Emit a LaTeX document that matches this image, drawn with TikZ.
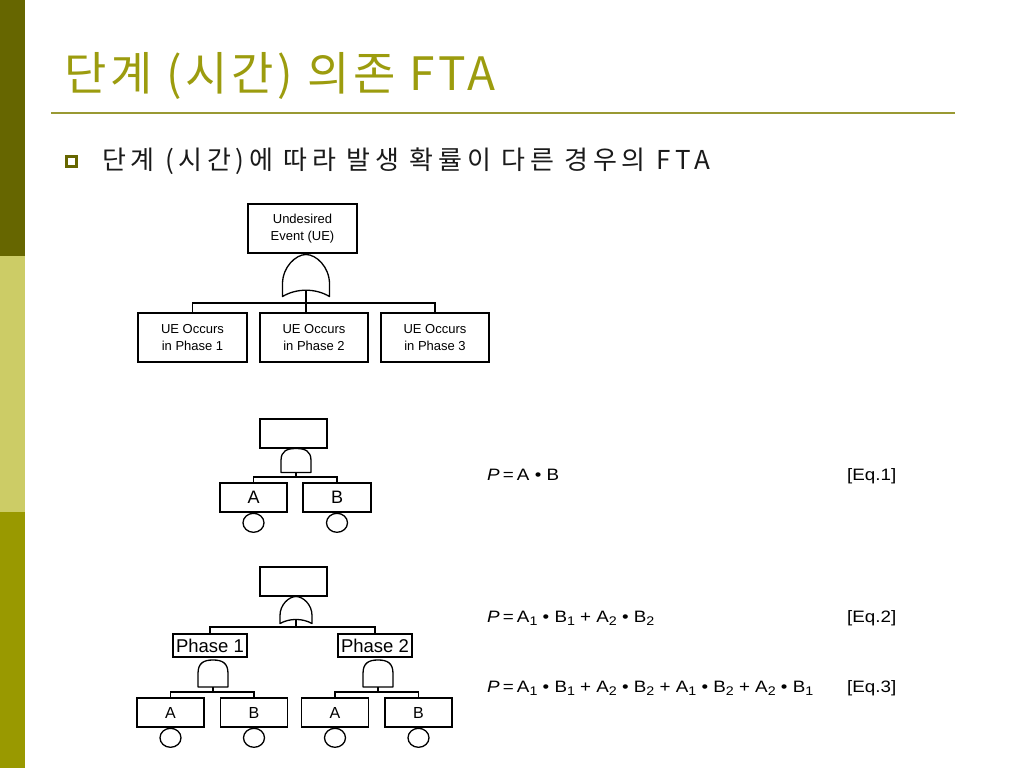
\documentclass[tikz,border=0pt]{standalone}
\usepackage{fontspec}
\usepackage{graphicx}
\setmainfont{Liberation Sans}
\newfontfamily\krtitle[LetterSpace=8]{Noto Sans CJK KR}
\newfontfamily\krbody[LetterSpace=18]{Noto Sans CJK KR}
\usetikzlibrary{shapes.geometric}
\definecolor{bardark}{HTML}{666600}
\definecolor{barlight}{HTML}{CCCC66}
\definecolor{barmid}{HTML}{999900}
\definecolor{titlecol}{HTML}{9C9C0E}
\definecolor{rulecol}{HTML}{999933}
\definecolor{bodytext}{HTML}{1A1A1A}
\newcommand\sbx[1]{\raisebox{-3.5pt}{\fontsize{12.5}{12}\selectfont #1}}
\newcommand\eqs[1]{\scalebox{1.14}[1]{#1}}
\tikzset{
  gateline/.style={line width=1.3pt, line join=round},
  treeline/.style={line width=1.3pt},
  evbox/.style={draw, line width=1.3pt, rectangle, inner sep=0pt, align=center},
  bigbox/.style={evbox, minimum width=109pt, minimum height=49pt, font=\fontsize{13}{16.5}\selectfont},
  smallbox/.style={evbox, minimum width=67pt, minimum height=29pt},
  phasebox/.style={evbox, minimum width=74pt, minimum height=23pt, font=\fontsize{18.5}{18}\selectfont},
  leafbox/.style={evbox, minimum width=67pt, minimum height=29pt, font=\fontsize{16}{18}\selectfont},
  evcirc/.style={draw, line width=1.3pt, ellipse, inner sep=0pt, minimum width=21pt, minimum height=19pt},
  eqtext/.style={anchor=base west, inner sep=0pt, font=\fontsize{16.5}{18}\selectfont},
  pics/orgate/.style={code={
    \draw[gateline] (-0.5,1) -- (-0.5,0.7) .. controls (-0.5,0.3) and (-0.22,0) .. (0,0)
      .. controls (0.22,0) and (0.5,0.3) .. (0.5,0.7) -- (0.5,1)
      .. controls (0.2,0.8) and (-0.2,0.8) .. (-0.5,1) -- cycle;
    \coordinate (-top) at (0,0);
    \coordinate (-bot) at (0,0.85);
  }},
  pics/andgate/.style={code={
    \draw[gateline] (-0.5,1) -- (-0.5,0.5) .. controls (-0.5,0.1) and (-0.3,0) .. (0,0)
      .. controls (0.3,0) and (0.5,0.1) .. (0.5,0.5) -- (0.5,1) -- cycle;
    \coordinate (-top) at (0,0);
    \coordinate (-bot) at (0,1);
  }}
}
\begin{document}
\begin{tikzpicture}[x=1pt,y=-1pt]
\useasboundingbox (0,0) rectangle (1024,768);
\fill[white] (0,0) rectangle (1024,768);
% left bar
\fill[bardark] (0,0) rectangle (25,256);
\fill[barlight] (0,256) rectangle (25,512);
\fill[barmid] (0,512) rectangle (25,768);
% title
\node[anchor=base west, inner sep=0pt, text=titlecol, font=\krtitle\fontsize{46}{50}\selectfont] (title) at (64,90) {단계 (시간) 의존 FTA};
\draw[rulecol, line width=2.5pt] (51,113) -- (955,113);
% bullet
\draw[bardark, line width=2.6pt] (66.3,156.3) rectangle (76.7,166.7);
\node[anchor=base west, inner sep=0pt, text=bodytext, font=\krbody\fontsize{26}{30}\selectfont] (sub) at (102,169) {단계 (시간)에 따라 발생 확률이 다른 경우의 FTA};

% ---- top tree
\node[bigbox] (ue) at (302.5,228.5) {Undesired\\Event (UE)};
\pic[xscale=47,yscale=42] (g0) at (306,254.5) {orgate};
\node[bigbox] (p1) at (192.5,337.5) {UE Occurs\\in Phase 1};
\node[bigbox, minimum width=108pt] (p2) at (314,337.5) {UE Occurs\\in Phase 2};
\node[bigbox, minimum width=108pt] (p3) at (435,337.5) {UE Occurs\\in Phase 3};
\coordinate (j0) at (306,303);
\draw[treeline] (g0-bot) -- (g0-bot |- p2.north);
\draw[treeline] (p1.north) |- (j0) -| (p3.north);

% ---- middle tree
\node[smallbox] (m0) at (293.5,433.5) {};
\pic[xscale=30,yscale=24] (g1) at (296,448.5) {andgate};
\coordinate (j1) at (296,477);
\node[leafbox, font=\fontsize{18}{18}\selectfont] (ma) at (253.5,497.5) {A};
\node[leafbox, font=\fontsize{18}{18}\selectfont, minimum width=68pt] (mb) at (337,497.5) {B};
\node[evcirc, anchor=north] (mca) at (ma.south) {};
\node[evcirc, anchor=north] (mcb) at (mb.south) {};
\draw[treeline] (g1-bot) -- (j1);
\draw[treeline] (ma.north) |- (j1) -| (mb.north);

% ---- bottom tree
\node[smallbox] (r0) at (293.5,581.5) {};
\pic[xscale=32,yscale=27] (g2) at (296,596.5) {orgate};
\coordinate (j2) at (296,627);
\node[phasebox] (ph1) at (210,645.5) {Phase 1};
\node[phasebox] (ph2) at (375,645.5) {Phase 2};
\draw[treeline] (g2-bot) -- (j2);
\draw[treeline] (ph1.north) |- (j2) -| (ph2.north);
\pic[xscale=30,yscale=27] (g3) at (213,660) {andgate};
\pic[xscale=30,yscale=27] (g4) at (378,660) {andgate};
\coordinate (j3) at (213,692);
\coordinate (j4) at (378,692);
\node[leafbox] (a1) at (170.5,712.5) {A};
\node[leafbox] (b1) at (254,712.5) {B};
\node[leafbox] (a2) at (335,712.5) {A};
\node[leafbox] (b2) at (418.5,712.5) {B};
\draw[treeline] (g3-bot) -- (j3);
\draw[treeline] (a1.north) |- (j3) -| (b1.north);
\draw[treeline] (g4-bot) -- (j4);
\draw[treeline] (a2.north) |- (j4) -| (b2.north);
\node[evcirc, anchor=north] (ca1) at (a1.south) {};
\node[evcirc, anchor=north] (cb1) at (b1.south) {};
\node[evcirc, anchor=north] (ca2) at (a2.south) {};
\node[evcirc, anchor=north] (cb2) at (b2.south) {};

% ---- equations
\node[eqtext] (eq1) at (487,480) {\eqs{\textit{P}\,=\,A • B}};
\node[eqtext] (eq1n) at (847,480) {\eqs{[Eq.1]}};
\node[eqtext] (eq2) at (487,622) {\eqs{\textit{P}\,=\,A\sbx{1} • B\sbx{1} + A\sbx{2} • B\sbx{2}}};
\node[eqtext] (eq2n) at (847,622) {\eqs{[Eq.2]}};
\node[eqtext] (eq3) at (487,692) {\eqs{\textit{P}\,=\,A\sbx{1} • B\sbx{1} + A\sbx{2} • B\sbx{2} + A\sbx{1} • B\sbx{2} + A\sbx{2} • B\sbx{1}}};
\node[eqtext] (eq3n) at (847,692) {\eqs{[Eq.3]}};
\end{tikzpicture}
\end{document}
